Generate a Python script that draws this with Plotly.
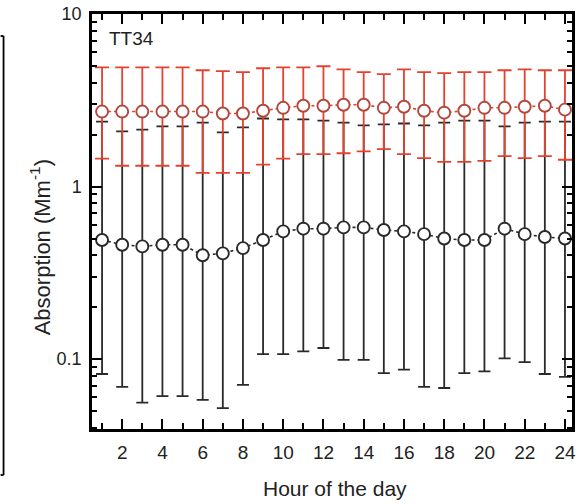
import plotly.graph_objects as go

# ---- data ----
hours = list(range(1, 25))

red_mean = [2.72, 2.72, 2.72, 2.72, 2.72, 2.72, 2.65, 2.65, 2.75, 2.86, 2.94, 2.94,
            2.98, 2.98, 2.86, 2.90, 2.75, 2.68, 2.75, 2.86, 2.86, 2.90, 2.94, 2.79]
red_upper = [4.90, 4.90, 4.90, 4.90, 4.90, 4.72, 4.66, 4.60, 4.85, 4.90, 4.90, 4.98,
             4.78, 4.60, 4.48, 4.78, 4.60, 4.54, 4.60, 4.60, 4.72, 4.78, 4.72, 4.72]
red_lower = [1.45, 1.32, 1.32, 1.32, 1.32, 1.20, 1.20, 1.20, 1.34, 1.45, 1.54, 1.54,
             1.56, 1.60, 1.65, 1.54, 1.46, 1.39, 1.39, 1.41, 1.50, 1.46, 1.50, 1.43]

black_mean = [0.49, 0.46, 0.45, 0.46, 0.46, 0.40, 0.41, 0.44, 0.49, 0.55, 0.57, 0.57,
              0.58, 0.58, 0.56, 0.55, 0.53, 0.50, 0.49, 0.49, 0.57, 0.53, 0.51, 0.50]
black_upper = [2.38, 2.09, 2.14, 2.23, 2.23, 2.35, 2.06, 2.20, 2.48, 2.45, 2.45, 2.41,
               2.35, 2.26, 2.29, 2.32, 2.26, 2.35, 2.41, 2.41, 2.23, 2.35, 2.38, 2.38]
black_lower = [0.082, 0.069, 0.056, 0.061, 0.061, 0.058, 0.052, 0.071, 0.107, 0.107, 0.111, 0.116,
               0.099, 0.099, 0.083, 0.087, 0.069, 0.068, 0.083, 0.085, 0.101, 0.096, 0.082, 0.079]

x_ticks = [2, 4, 6, 8, 10, 12, 14, 16, 18, 20, 22, 24]
y_ticks = [0.1, 1, 10]
y_tick_text = ["0.1", "1", "10"]
panel_label = "TT34"
x_title = "Hour of the day"
y_title = "Absorption (Mm<sup>-1</sup>)"

FONT = "Liberation Sans, Arial, sans-serif"
RED = "#e5412f"
RED_EDGE = "#b4473c"
BLACK = "#2a2a2a"

fig = go.Figure()

fig.add_trace(go.Scatter(
    x=hours, y=black_mean, mode="lines+markers",
    line=dict(color=BLACK, width=1.6, dash="dot"),
    marker=dict(symbol="circle", size=12, color="white",
                line=dict(color=BLACK, width=1.9)),
    error_y=dict(type="data", symmetric=False,
                 array=[u - m for u, m in zip(black_upper, black_mean)],
                 arrayminus=[m - l for m, l in zip(black_mean, black_lower)],
                 color=BLACK, thickness=1.8, width=6),
    showlegend=False,
))

fig.add_trace(go.Scatter(
    x=hours, y=red_mean, mode="lines+markers",
    line=dict(color=RED, width=1.6, dash="dot"),
    marker=dict(symbol="circle", size=12, color="white",
                line=dict(color=RED_EDGE, width=1.9)),
    error_y=dict(type="data", symmetric=False,
                 array=[u - m for u, m in zip(red_upper, red_mean)],
                 arrayminus=[m - l for m, l in zip(red_mean, red_lower)],
                 color=RED, thickness=1.8, width=7),
    showlegend=False,
))

minor_y = [v * d for d in (0.01, 0.1, 1) for v in range(2, 10)]

fig.update_xaxes(
    range=[0.5, 24.35], tickmode="array", tickvals=x_ticks,
    ticks="inside", ticklen=10, tickwidth=1.8, tickcolor="black",
    minor=dict(tickmode="array", tickvals=list(range(1, 25, 2)),
               ticks="inside", ticklen=6, tickwidth=1.5, tickcolor="black"),
    showline=True, linecolor="black", linewidth=2.5, mirror="ticks",
    showgrid=False, zeroline=False,
    tickfont=dict(family=FONT, size=19, color="#222"),
    ticklabelstandoff=4,
)
fig.update_yaxes(
    type="log", range=[-1.405, 1.0], tickmode="array",
    tickvals=y_ticks, ticktext=y_tick_text,
    ticks="inside", ticklen=10, tickwidth=1.8, tickcolor="black",
    minor=dict(tickmode="array", tickvals=minor_y,
               ticks="inside", ticklen=5, tickwidth=1.5, tickcolor="black"),
    showline=True, linecolor="black", linewidth=2.5, mirror="ticks",
    showgrid=False, zeroline=False,
    tickfont=dict(family=FONT, size=18, color="#222"),
    ticklabelstandoff=4,
)

annotations = [
    dict(text=panel_label, xref="paper", yref="paper",
         x=(107 - 92) / 483, y=(429 - 39) / 415, xanchor="left", yanchor="middle",
         showarrow=False, font=dict(family=FONT, size=19, color="#222")),
    dict(text=x_title, xref="paper", yref="paper",
         x=(337 - 92) / 483, y=(429 - 488) / 415, xanchor="center", yanchor="middle",
         showarrow=False, font=dict(family=FONT, size=21, color="#222")),
    dict(text=y_title, xref="paper", yref="paper", textangle=-90,
         x=(40 - 92) / 483, y=(429 - 247) / 415, xanchor="center", yanchor="middle",
         showarrow=False, font=dict(family=FONT, size=22, color="#222")),
]

# fragment of the neighbouring panel at the far left edge
def px_x(p):
    return (p - 92) / 483

def px_y(p):
    return (429 - p) / 415

shapes = [
    dict(type="line", xref="paper", yref="paper",
         x0=px_x(3), x1=px_x(3), y0=px_y(36), y1=px_y(475),
         line=dict(color="black", width=1.8)),
    dict(type="line", xref="paper", yref="paper",
         x0=px_x(0), x1=px_x(3), y0=px_y(36), y1=px_y(36),
         line=dict(color="black", width=1.8)),
    dict(type="line", xref="paper", yref="paper",
         x0=px_x(0), x1=px_x(3), y0=px_y(475), y1=px_y(475),
         line=dict(color="black", width=1.8)),
]

fig.update_layout(
    width=578, height=504,
    margin=dict(l=92, r=3, t=14, b=75),
    paper_bgcolor="white", plot_bgcolor="white",
    annotations=annotations, shapes=shapes,
    font=dict(family=FONT),
)

fig.write_html("out.html")
